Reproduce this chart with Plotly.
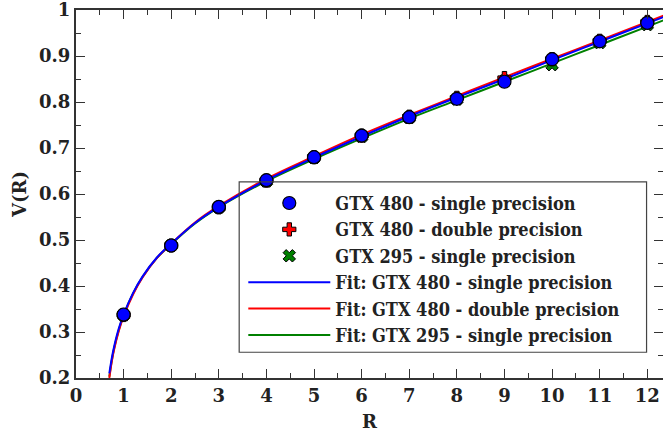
import plotly.graph_objects as go

R = [1, 2, 3, 4, 5, 6, 7, 8, 9, 10, 11, 12]
v_480_single = [0.338, 0.488, 0.572, 0.630, 0.680, 0.727, 0.767, 0.807, 0.844, 0.893, 0.932, 0.972]
v_480_double = [0.337, 0.488, 0.571, 0.629, 0.680, 0.727, 0.768, 0.809, 0.852, 0.893, 0.933, 0.974]
v_295_single = [0.337, 0.488, 0.571, 0.628, 0.679, 0.725, 0.766, 0.806, 0.846, 0.881, 0.929, 0.968]
err_480_single = [0.003] * 12
err_480_double = [0.003] * 12
err_295_single = [0.003] * 12

fit_R = [0.70, 0.75, 0.8, 0.9, 1.0, 1.2, 1.4, 1.7, 2, 2.5, 3, 4, 5, 6, 7, 8, 9, 10, 11, 12, 12.4]
fit_480_single = [0.210, 0.242, 0.268, 0.308, 0.338, 0.385, 0.421, 0.462, 0.492, 0.537, 0.572, 0.630, 0.679, 0.725, 0.769, 0.810, 0.850, 0.891, 0.931, 0.971, 0.987]
fit_480_double = [0.200, 0.235, 0.262, 0.303, 0.334, 0.382, 0.419, 0.461, 0.492, 0.538, 0.574, 0.633, 0.682, 0.729, 0.772, 0.813, 0.854, 0.894, 0.934, 0.974, 0.990]
fit_295_single = [0.203, 0.237, 0.264, 0.305, 0.336, 0.384, 0.420, 0.461, 0.491, 0.536, 0.571, 0.628, 0.676, 0.721, 0.764, 0.804, 0.844, 0.884, 0.924, 0.964, 0.980]

FONT_C = "DejaVu Serif Condensed, DejaVu Serif, serif"
FONT = "DejaVu Serif, serif"
TXT = dict(family=FONT, size=18, color="#222", weight="bold")
LEG = dict(family=FONT_C, size=18, color="#222", weight="bold")

fig = go.Figure()

# fit lines
fig.add_trace(go.Scatter(x=fit_R, y=fit_295_single, mode="lines", line=dict(color="green", width=2, shape="spline"),
                         name="Fit: GTX 295 - single precision", legendrank=6))
fig.add_trace(go.Scatter(x=fit_R, y=fit_480_double, mode="lines", line=dict(color="red", width=2, shape="spline"),
                         name="Fit: GTX 480 - double precision", legendrank=5))
fig.add_trace(go.Scatter(x=fit_R, y=fit_480_single, mode="lines", line=dict(color="blue", width=2, shape="spline"),
                         name="Fit: GTX 480 - single precision", legendrank=4))

# data points
fig.add_trace(go.Scatter(x=R, y=v_295_single, mode="markers", name="GTX 295 - single precision",
                         marker=dict(symbol="x", size=11, color="green", line=dict(color="black", width=1)),
                         error_y=dict(type="data", array=err_295_single, color="green", thickness=1.5, width=5),
                         legendrank=3))
fig.add_trace(go.Scatter(x=R, y=v_480_double, mode="markers", name="GTX 480 - double precision",
                         marker=dict(symbol="cross", size=11, color="red", line=dict(color="black", width=1)),
                         error_y=dict(type="data", array=err_480_double, color="red", thickness=1.5, width=5),
                         legendrank=2))
fig.add_trace(go.Scatter(x=R, y=v_480_single, mode="markers", name="GTX 480 - single precision",
                         marker=dict(symbol="circle", size=13, color="blue", line=dict(color="black", width=1.2)),
                         error_y=dict(type="data", array=err_480_single, color="blue", thickness=1.5, width=5),
                         legendrank=1))

axis_common = dict(
    showline=True, linecolor="#333", linewidth=2, mirror="allticks",
    ticks="inside", ticklen=9, tickwidth=1.2, tickcolor="#333",
    showgrid=False, zeroline=False, automargin=False,
    tickfont=TXT, ticklabeloverflow="allow",
)

fig.update_xaxes(range=[0, 12.33], dtick=1, tick0=0,
                 minor=dict(ticks="inside", ticklen=5, dtick=0.5, tickcolor="#333", tickwidth=1.2),
                 title=dict(text="R", font=TXT, standoff=16),
                 **axis_common)
fig.update_yaxes(range=[0.2, 1.0], dtick=0.1, tick0=0.2, tickformat=".1~f",
                 minor=dict(ticks="inside", ticklen=5, dtick=0.05, tickcolor="#333", tickwidth=1.2),
                 title=dict(text="V(R)", font=TXT, standoff=8),
                 **axis_common)

fig.add_shape(type="rect", xref="paper", yref="paper", x0=0.278, x1=0.972, y0=0.07, y1=0.533,
              line=dict(color="#444", width=1.2), fillcolor="rgba(0,0,0,0)", layer="above")

fig.update_layout(
    width=663, height=432,
    margin=dict(l=76, r=0, t=10, b=54, autoexpand=False),
    plot_bgcolor="white", paper_bgcolor="white",
    font=TXT,
    legend=dict(x=0.285, y=0.525, xanchor="left", yanchor="top", bgcolor="rgba(0,0,0,0)",
                borderwidth=0, itemwidth=82, tracegroupgap=0, font=LEG),
    showlegend=True,
)

# remove the default 8px page margin so the figure fills the 663x432 window exactly
fig.write_html("out.html", config={"displayModeBar": False},
               post_script="document.body.style.margin='0';document.body.style.overflow='hidden';")
